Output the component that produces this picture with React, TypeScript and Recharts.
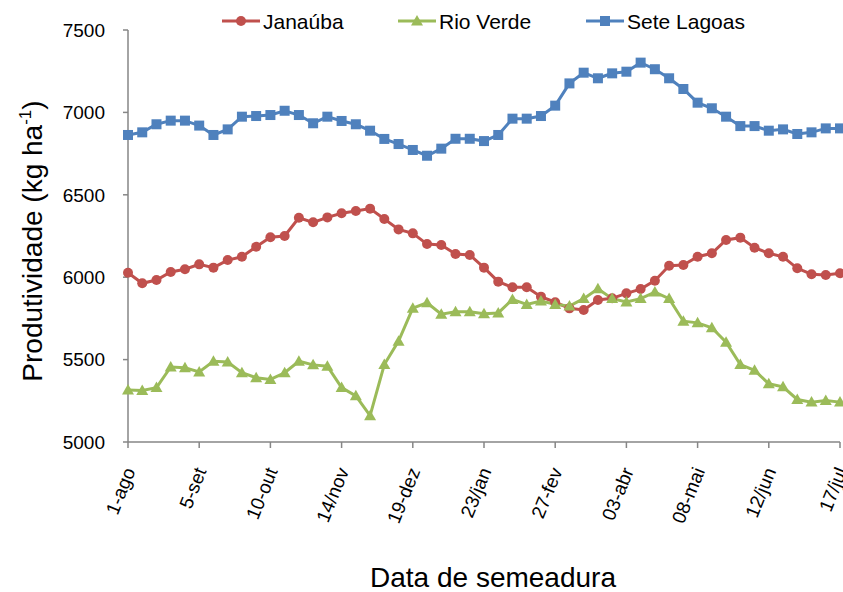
import { LineChart, Line, XAxis, YAxis, Legend, Label } from "recharts";

const tickLabels = ["1-ago", "5-set", "10-out", "14/nov", "19-dez", "23/jan", "27-fev", "03-abr", "08-mai", "12/jun", "17/jul"];
const yTicks = [5000, 5500, 6000, 6500, 7000, 7500];

const janauba = [6027, 5963, 5983, 6032, 6048, 6078, 6058, 6104, 6124, 6185, 6242, 6250, 6361, 6333, 6363, 6388, 6402, 6416, 6353, 6290, 6266, 6201, 6195, 6141, 6135, 6058, 5973, 5939, 5939, 5882, 5848, 5811, 5801, 5862, 5872, 5902, 5928, 5979, 6070, 6074, 6124, 6145, 6226, 6240, 6179, 6145, 6124, 6054, 6018, 6013, 6024];
const rioVerde = [5315, 5312, 5330, 5455, 5450, 5425, 5490, 5485, 5420, 5390, 5380, 5420, 5490, 5468, 5460, 5330, 5280, 5160, 5470, 5612, 5812, 5845, 5775, 5790, 5790, 5778, 5783, 5865, 5835, 5855, 5835, 5825, 5870, 5930, 5870, 5850, 5870, 5910, 5870, 5733, 5723, 5693, 5606, 5470, 5435, 5353, 5335, 5258, 5242, 5252, 5242];
const seteLagoas = [6863, 6879, 6928, 6950, 6950, 6920, 6863, 6897, 6974, 6978, 6984, 7010, 6984, 6934, 6974, 6948, 6928, 6889, 6839, 6808, 6772, 6737, 6780, 6840, 6840, 6826, 6863, 6962, 6962, 6978, 7041, 7176, 7241, 7207, 7237, 7247, 7302, 7262, 7207, 7142, 7059, 7025, 6974, 6917, 6917, 6889, 6897, 6869, 6879, 6903, 6903];

const RED = "#C0504D";
const GREEN = "#9BBB59";
const BLUE = "#4F81BD";
const AXIS = "#868686";

// one row per sowing week, x is the week index
const data = janauba.map((v, i) => ({ i, janauba: v, rioVerde: rioVerde[i], seteLagoas: seteLagoas[i] }));
const xTicks = tickLabels.map((_, k) => k * 5);

const circleDot = (p: any) => <circle key={p.index} cx={p.cx} cy={p.cy} r={5} fill={RED} />;
const triDot = (p: any) => (
  <polygon key={p.index} points={`${p.cx},${p.cy - 6} ${p.cx - 6},${p.cy + 4.5} ${p.cx + 6},${p.cy + 4.5}`} fill={GREEN} />
);
const squareDot = (p: any) => <rect key={p.index} x={p.cx - 5} y={p.cy - 5} width={10} height={10} fill={BLUE} />;

function XTick({ x, y, payload }: any) {
  const label = tickLabels[Math.round(payload.value / 5)];
  return (
    <text transform={`translate(${x + 3},${y + 19}) rotate(-68)`} textAnchor="end" dominantBaseline="middle" fontSize={19} fill="#000">
      {label}
    </text>
  );
}

function LegendBox() {
  const items = [
    { name: "Janaúba", color: RED, x: 222, shape: "c" },
    { name: "Rio Verde", color: GREEN, x: 398, shape: "t" },
    { name: "Sete Lagoas", color: BLUE, x: 586, shape: "s" },
  ];
  const cy = 21;
  return (
    <svg width={843} height={40}>
      {items.map((it) => {
        const mx = it.x + 19;
        return (
          <g key={it.name}>
            <line x1={it.x} x2={it.x + 38} y1={cy} y2={cy} stroke={it.color} strokeWidth={3} />
            {it.shape === "c" && <circle cx={mx} cy={cy} r={5} fill={it.color} />}
            {it.shape === "t" && <polygon points={`${mx},${cy - 6} ${mx - 6},${cy + 4.5} ${mx + 6},${cy + 4.5}`} fill={it.color} />}
            {it.shape === "s" && <rect x={mx - 5} y={cy - 5} width={10} height={10} fill={it.color} />}
            <text x={it.x + 41} y={cy + 7.5} fontSize={21} fill="#000">{it.name}</text>
          </g>
        );
      })}
    </svg>
  );
}

const yTitle = () => (
  <text transform="translate(42,241) rotate(-90)" textAnchor="middle" fontSize={28} fill="#000">
    Produtividade (kg ha
    <tspan fontSize={17} dy={-11}>-1</tspan>
    <tspan dy={11}>)</tspan>
  </text>
);

const xTitle = () => (
  <text x={493} y={587} textAnchor="middle" fontSize={28} fill="#000">Data de semeadura</text>
);

export default function App() {
  return (
    <div style={{ position: "absolute", left: 0, top: 0, width: 843, height: 592, background: "#fff", fontFamily: "'Liberation Sans', Arial, sans-serif" }}>
      <LineChart width={843} height={592} data={data} margin={{ top: 30, right: 3, bottom: 0, left: 0 }}>
        <XAxis
          dataKey="i"
          type="number"
          domain={[0, 50]}
          ticks={xTicks}
          interval={0}
          height={150}
          stroke={AXIS}
          strokeWidth={1.5}
          tickSize={6}
          tickMargin={2}
          tick={<XTick />}
        >
          <Label content={xTitle} />
        </XAxis>
        <YAxis
          domain={[5000, 7500]}
          ticks={yTicks}
          width={128}
          stroke={AXIS}
          strokeWidth={1.5}
          tickSize={5}
          tickMargin={18}
          tick={{ fill: "#000", fontSize: 19 }}
        >
          <Label content={yTitle} />
        </YAxis>
        <Legend verticalAlign="middle" align="center" wrapperStyle={{ top: 0, left: 0, width: 843 }} content={() => <LegendBox />} />
        <Line dataKey="janauba" name="Janaúba" stroke={RED} strokeWidth={3} dot={circleDot} isAnimationActive={false} />
        <Line dataKey="rioVerde" name="Rio Verde" stroke={GREEN} strokeWidth={3} dot={triDot} isAnimationActive={false} />
        <Line dataKey="seteLagoas" name="Sete Lagoas" stroke={BLUE} strokeWidth={3} dot={squareDot} isAnimationActive={false} />
      </LineChart>
    </div>
  );
}
